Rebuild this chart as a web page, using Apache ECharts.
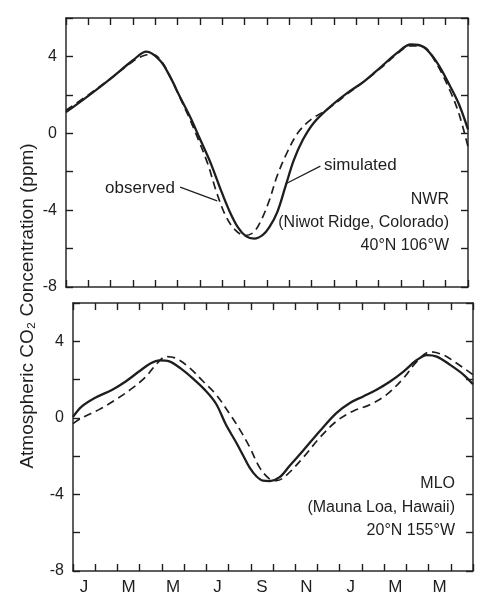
<!DOCTYPE html>
<html>
<head>
<meta charset="utf-8">
<script src="https://cdn.jsdelivr.net/npm/echarts@6/dist/echarts.min.js"></script>
<style>
  html, body { margin: 0; padding: 0; background: #fff; }
  #chart { width: 477px; height: 596px; }
</style>
</head>
<body>
<div id="chart"></div>
<script>
// Month initials along the 18-month time axis (Jan .. Jun of the following year)
const monthLabels = ['J','F','M','A','M','J','J','A','S','O','N','D','J','F','M','A','M','J'];

// Seasonal CO2 cycle, [month since Jan 1, ppm deviation]
// Niwot Ridge (NWR) — model result
const nwrSimulated = [
  [0,1.1],[1,1.95],[2,2.85],[3,3.8],[3.6,4.25],[4.2,3.8],[4.66,2.95],[5.1,1.9],[5.56,0.85],
  [6.0,-0.3],[6.46,-1.5],[6.9,-2.85],[7.3,-4.0],[7.7,-4.9],[8.05,-5.35],[8.43,-5.48],[8.8,-5.3],
  [9.1,-4.9],[9.46,-4.1],[9.83,-2.75],[10.2,-1.4],[10.6,-0.35],[11.1,0.55],[11.85,1.4],[12.6,2.1],
  [13.35,2.7],[14.1,3.45],[14.84,4.2],[15.44,4.62],[16.0,4.5],[16.6,3.7],[17.2,2.45],[17.6,1.5],[18,0.2]
];
// Niwot Ridge (NWR) — station record
const nwrObserved = [
  [0,1.2],[1,2.0],[2,2.85],[3,3.75],[3.5,4.05],[3.9,4.1],[4.3,3.7],[4.66,2.95],[5.1,1.85],[5.5,0.85],
  [5.95,-0.4],[6.35,-1.6],[6.75,-3.1],[7.15,-4.3],[7.55,-5.0],[8.0,-5.32],[8.4,-5.15],[8.75,-4.5],
  [9.1,-3.5],[9.46,-2.2],[9.9,-1.0],[10.4,0.05],[10.95,0.7],[11.7,1.25],[12.6,2.05],[13.35,2.7],
  [14.1,3.4],[14.84,4.15],[15.4,4.55],[16.0,4.5],[16.6,3.6],[17.2,2.2],[17.6,1.0],[18,-0.7]
];
// Mauna Loa (MLO) — model result
const mloSimulated = [
  [0,0.05],[0.4,0.6],[1.0,1.05],[1.77,1.47],[2.37,1.9],[2.97,2.42],[3.5,2.85],[3.9,3.0],[4.33,2.95],
  [4.86,2.57],[5.38,2.07],[5.9,1.5],[6.43,0.75],[6.88,-0.35],[7.35,-1.3],[7.65,-1.95],[7.95,-2.6],
  [8.25,-3.05],[8.55,-3.28],[8.85,-3.3],[9.3,-3.1],[9.75,-2.5],[10.35,-1.72],[11.1,-0.7],[11.85,0.25],
  [12.46,0.78],[13.06,1.12],[13.66,1.47],[14.27,1.9],[14.87,2.42],[15.47,3.02],[15.92,3.28],
  [16.37,3.2],[16.97,2.77],[17.58,2.25],[18,1.75]
];
// Mauna Loa (MLO) — station record
const mloObserved = [
  [0,-0.3],[0.4,0.0],[1.17,0.43],[1.92,0.95],[2.67,1.55],[3.28,2.15],[3.75,2.8],[4.2,3.2],[4.66,3.1],
  [5.26,2.6],[5.86,1.9],[6.45,1.2],[7.07,0.17],[7.5,-0.6],[7.96,-1.55],[8.4,-2.6],[8.85,-3.2],
  [9.16,-3.28],[9.6,-3.0],[10.36,-2.07],[11.1,-1.04],[11.86,-0.17],[12.6,0.35],[13.36,0.69],
  [14.1,1.2],[14.87,2.07],[15.47,2.94],[16.07,3.45],[16.67,3.28],[17.27,2.85],[18,2.25]
];

// Y axis range and labelled ticks
const yMin = -8, yMax = 6, yStep = 2, yLabelStep = 4;

// Leader lines joining the curve names to their curves (data coordinates)
const observedPointer = [[5.11,-2.8],[6.77,-3.52]];
const simulatedPointer = [[11.39,-1.71],[9.82,-2.64]];

const FONT = "'Liberation Sans', Arial, Helvetica, sans-serif";
const INK = '#1e1e1e';
const FRAME = { show: true, onZero: false, lineStyle: { color: '#2a2a2a', width: 1.5 } };

const chart = echarts.init(document.getElementById('chart'), null, { renderer: 'canvas' });

function monthAxis(gridIndex, position, showLabels) {
  return {
    type: 'category', gridIndex, position, data: monthLabels, boundaryGap: true,
    axisLine: FRAME,
    axisTick: { show: true, inside: true, length: 7, interval: 0, lineStyle: { color: INK, width: 1.4 } },
    axisLabel: { show: showLabels, interval: 1, margin: 8, color: INK, fontSize: 17, fontFamily: FONT },
    splitLine: { show: false }
  };
}
function dataAxis(gridIndex) {
  return { type: 'value', gridIndex, min: 0, max: 18, show: false };
}
function ppmAxis(gridIndex, position, showLabels) {
  return {
    type: 'value', gridIndex, position, min: yMin, max: yMax, interval: yStep,
    axisLine: FRAME,
    axisTick: { show: true, inside: true, length: 7, lineStyle: { color: INK, width: 1.4 } },
    axisLabel: {
      show: showLabels, margin: 9, color: INK, fontSize: 16, fontFamily: FONT,
      formatter: v => (v % yLabelStep === 0 ? String(v) : '')
    },
    splitLine: { show: false }
  };
}
function curve(data, xAxisIndex, yAxisIndex, dashed) {
  return {
    type: 'line', data, xAxisIndex, yAxisIndex, smooth: 0.35, symbol: 'none',
    lineStyle: dashed ? { color: INK, width: 1.7, type: [8, 5] } : { color: INK, width: 2.3 },
    z: dashed ? 3 : 4
  };
}
function pointer(coords, xAxisIndex, yAxisIndex) {
  return {
    type: 'line', data: [], xAxisIndex, yAxisIndex,
    markLine: {
      silent: true, symbol: 'none', animation: false,
      lineStyle: { color: INK, width: 1.2, type: 'solid' },
      label: { show: false },
      data: [[{ coord: coords[0] }, { coord: coords[1] }]]
    }
  };
}

const textStyle = (extra) => Object.assign({ fill: INK, fontFamily: FONT, fontSize: 16 }, extra);

const option = {
  backgroundColor: '#ffffff',
  animation: false,
  grid: [
    { left: 66, top: 18, width: 402, height: 269 },
    { left: 73, top: 303, width: 400, height: 270 }
  ],
  xAxis: [
    monthAxis(0, 'bottom', false), monthAxis(0, 'top', false), dataAxis(0),
    monthAxis(1, 'bottom', true), monthAxis(1, 'top', false), dataAxis(1)
  ],
  yAxis: [
    ppmAxis(0, 'left', true), ppmAxis(0, 'right', false),
    ppmAxis(1, 'left', true), ppmAxis(1, 'right', false)
  ],
  series: [
    curve(nwrObserved, 2, 0, true),
    curve(nwrSimulated, 2, 0, false),
    curve(mloObserved, 5, 2, true),
    curve(mloSimulated, 5, 2, false),
    pointer(observedPointer, 2, 0),
    pointer(simulatedPointer, 2, 0)
  ],
  graphic: [
    { type: 'text', x: 28, y: 306, rotation: Math.PI / 2,
      style: textStyle({ text: 'Atmospheric CO₂ Concentration (ppm)', fontSize: 19, textAlign: 'center', textVerticalAlign: 'middle' }) },
    { type: 'text', x: 175, y: 188, style: textStyle({ text: 'observed', fontSize: 17, textAlign: 'right', textVerticalAlign: 'middle' }) },
    { type: 'text', x: 324, y: 165, style: textStyle({ text: 'simulated', fontSize: 17, textAlign: 'left', textVerticalAlign: 'middle' }) },
    { type: 'text', x: 449, y: 200, style: textStyle({ text: 'NWR', textAlign: 'right', textVerticalAlign: 'middle' }) },
    { type: 'text', x: 449, y: 223, style: textStyle({ text: '(Niwot Ridge, Colorado)', textAlign: 'right', textVerticalAlign: 'middle' }) },
    { type: 'text', x: 449, y: 246, style: textStyle({ text: '40°N 106°W', textAlign: 'right', textVerticalAlign: 'middle' }) },
    { type: 'text', x: 455, y: 484, style: textStyle({ text: 'MLO', textAlign: 'right', textVerticalAlign: 'middle' }) },
    { type: 'text', x: 455, y: 508, style: textStyle({ text: '(Mauna Loa, Hawaii)', textAlign: 'right', textVerticalAlign: 'middle' }) },
    { type: 'text', x: 455, y: 531, style: textStyle({ text: '20°N 155°W', textAlign: 'right', textVerticalAlign: 'middle' }) }
  ]
};

chart.setOption(option);
</script>
</body>
</html>
